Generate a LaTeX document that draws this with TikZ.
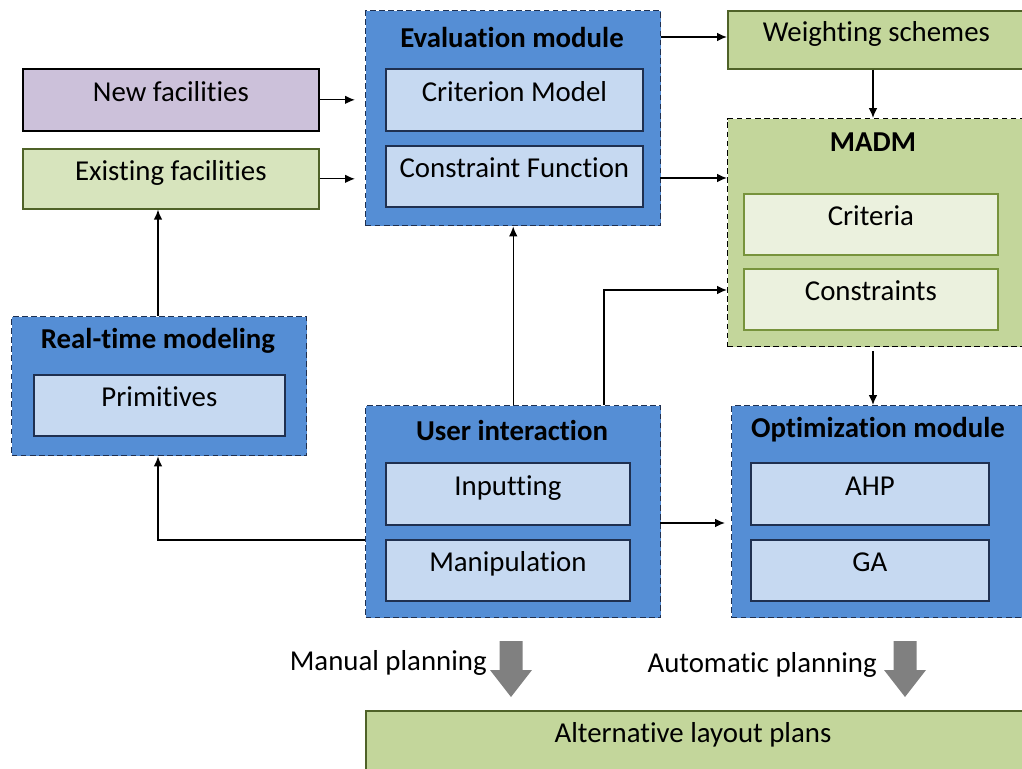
\documentclass[tikz,border=0pt]{standalone}
\usepackage{fontspec}
\setmainfont[Ligatures=NoCommon]{Carlito}
\usetikzlibrary{positioning}
\usetikzlibrary{arrows.meta}
\definecolor{mod-blue}{HTML}{558ED5}
\definecolor{sub-blue}{HTML}{C6D9F1}
\definecolor{line-navy}{HTML}{1F3050}
\definecolor{mod-green}{HTML}{C3D69B}
\definecolor{sub-green}{HTML}{EBF1DE}
\definecolor{pale-green}{HTML}{D7E4BD}
\definecolor{line-olive}{HTML}{77933C}
\definecolor{dark-olive}{HTML}{4F6228}
\definecolor{lilac}{HTML}{CCC1DA}
\newcommand{\pxl}{0.025cm}
\newcommand{\boxfont}{\fontsize{20.5}{24}\selectfont}
\tikzset{
  wh/.style 2 args={minimum width=#1*\pxl, minimum height=#2*\pxl,
    anchor=north west, inner sep=0pt, text height=21*\pxl, text depth=18*\pxl},
  module/.style={draw=line-navy, fill=mod-blue, line width=1pt,
    dash pattern=on 4pt off 2.5pt},
  greenmod/.style={draw=black, fill=mod-green, line width=1pt,
    dash pattern=on 4pt off 2.5pt},
  sub/.style={draw=line-navy, fill=sub-blue, line width=1.3pt},
  subgreen/.style={draw=line-olive, fill=sub-green, line width=1.3pt},
  plain/.style={draw=dark-olive, fill=mod-green, line width=1.2pt},
  modtitle/.style={font=\boxfont\bfseries},
  link/.style={-{Latex[length=7pt,width=6pt]}, line width=0.9pt},
  bigarrow/.pic={
    \fill[black!50] (-11.5,-28) -- (11.5,-28) -- (11.5,1) -- (21,1)
      -- (0,28) -- (-21,1) -- (-11.5,1) -- cycle;
  },
}

\begin{document}
\begin{tikzpicture}[x=0.025cm, y=-0.025cm,
  every node/.style={font=\boxfont}]
  \useasboundingbox (0,0) rectangle (1022,769);

  % input data on the left
  \node[wh={296}{62}, draw=black, fill=lilac, line width=1.2pt] (newf) at (22,68) {New facilities};
  \node[wh={296}{60}, draw=dark-olive, fill=pale-green, line width=1.2pt] (exist) at (22,148) {Existing facilities};

  % evaluation module
  \node[wh={295}{215}, module] (eval) at (365,10) {};
  \node[modtitle] (eval-t) at (512,37) {Evaluation module};
  \node[wh={257}{62}, sub] (critm) at (385,68) {Criterion Model};
  \node[wh={257}{61}, sub] (consf) at (385,145) {Constraint Function};

  % decision making
  \node[wh={297}{58}, plain] (weight) at (727,10) {Weighting schemes};
  \node[wh={300}{228}, greenmod] (madm) at (727,118) {};
  \node[modtitle] (madm-t) at (873,142) {MADM};
  \node[wh={254}{61}, subgreen] (crit) at (743,193) {Criteria};
  \node[wh={254}{61}, subgreen] (cons) at (743,268) {Constraints};

  % real-time modeling
  \node[wh={295}{139}, module] (rtm) at (11,316) {};
  \node[modtitle] (rtm-t) at (158,341) {Real-time modeling};
  \node[wh={251}{61}, sub] (prim) at (33,374) {Primitives};

  % user interaction
  \node[wh={295}{212}, module] (ui) at (365,405) {};
  \node[modtitle] (ui-t) at (512,430) {User interaction};
  \node[wh={244}{62}, sub] (inp) at (385,462) {Inputting};
  \node[wh={244}{61}, sub] (manip) at (385,539) {Manipulation};

  % optimization module
  \node[wh={296}{212}, module] (opt) at (731,405) {};
  \node[modtitle] (opt-t) at (878,430) {Optimization module};
  \node[wh={238}{62}, sub] (ahp) at (750,462) {AHP};
  \node[wh={238}{61}, sub] (ga) at (750,539) {GA};

  % output
  \node[wh={665}{65}, plain] (plans) at (365,710) {};
  \node (plans-t) at (693,735) {Alternative layout plans};
  \pic at (511,669) {bigarrow};
  \node[anchor=east, inner sep=0pt] (manual) at (487,663) {Manual planning};
  \pic at (905,669) {bigarrow};
  \node[anchor=east, inner sep=0pt] (auto) at (877,665) {Automatic planning};

  % connectors
  \draw[link, shorten >=10*\pxl] (newf.east) -- (newf.east -| eval.west);
  \draw[link, shorten >=10*\pxl] (exist.east) -- (exist.east -| eval.west);
  \draw[link] (eval-t -| eval.east) -- (eval-t -| weight.west);
  \coordinate (cf-out) at (660,178);
  \draw[link] (cf-out) -- (cf-out -| madm.west);
  \draw[link] (weight.south -| madm-t) -- (madm.north -| madm-t);
  \draw[link, shorten <=4*\pxl] (madm.south -| madm-t) -- (opt.north -| madm-t);
  \draw[link] (rtm.north -| rtm-t) -- (exist.south -| rtm-t);
  \draw[link] (ui.north) -- (eval.south);
  \coordinate (ui-up) at (604,405);
  \coordinate (madm-in) at (727,290);
  \draw[link] (ui-up) |- (madm-in);
  \coordinate (ui-left) at (365,540);
  \draw[link] (ui-left) -| (rtm.south -| rtm-t);
  \coordinate (ui-right) at (660,523);
  \draw[link, shorten >=6*\pxl] (ui-right) -- (ui-right -| opt.west);
\end{tikzpicture}
\end{document}
